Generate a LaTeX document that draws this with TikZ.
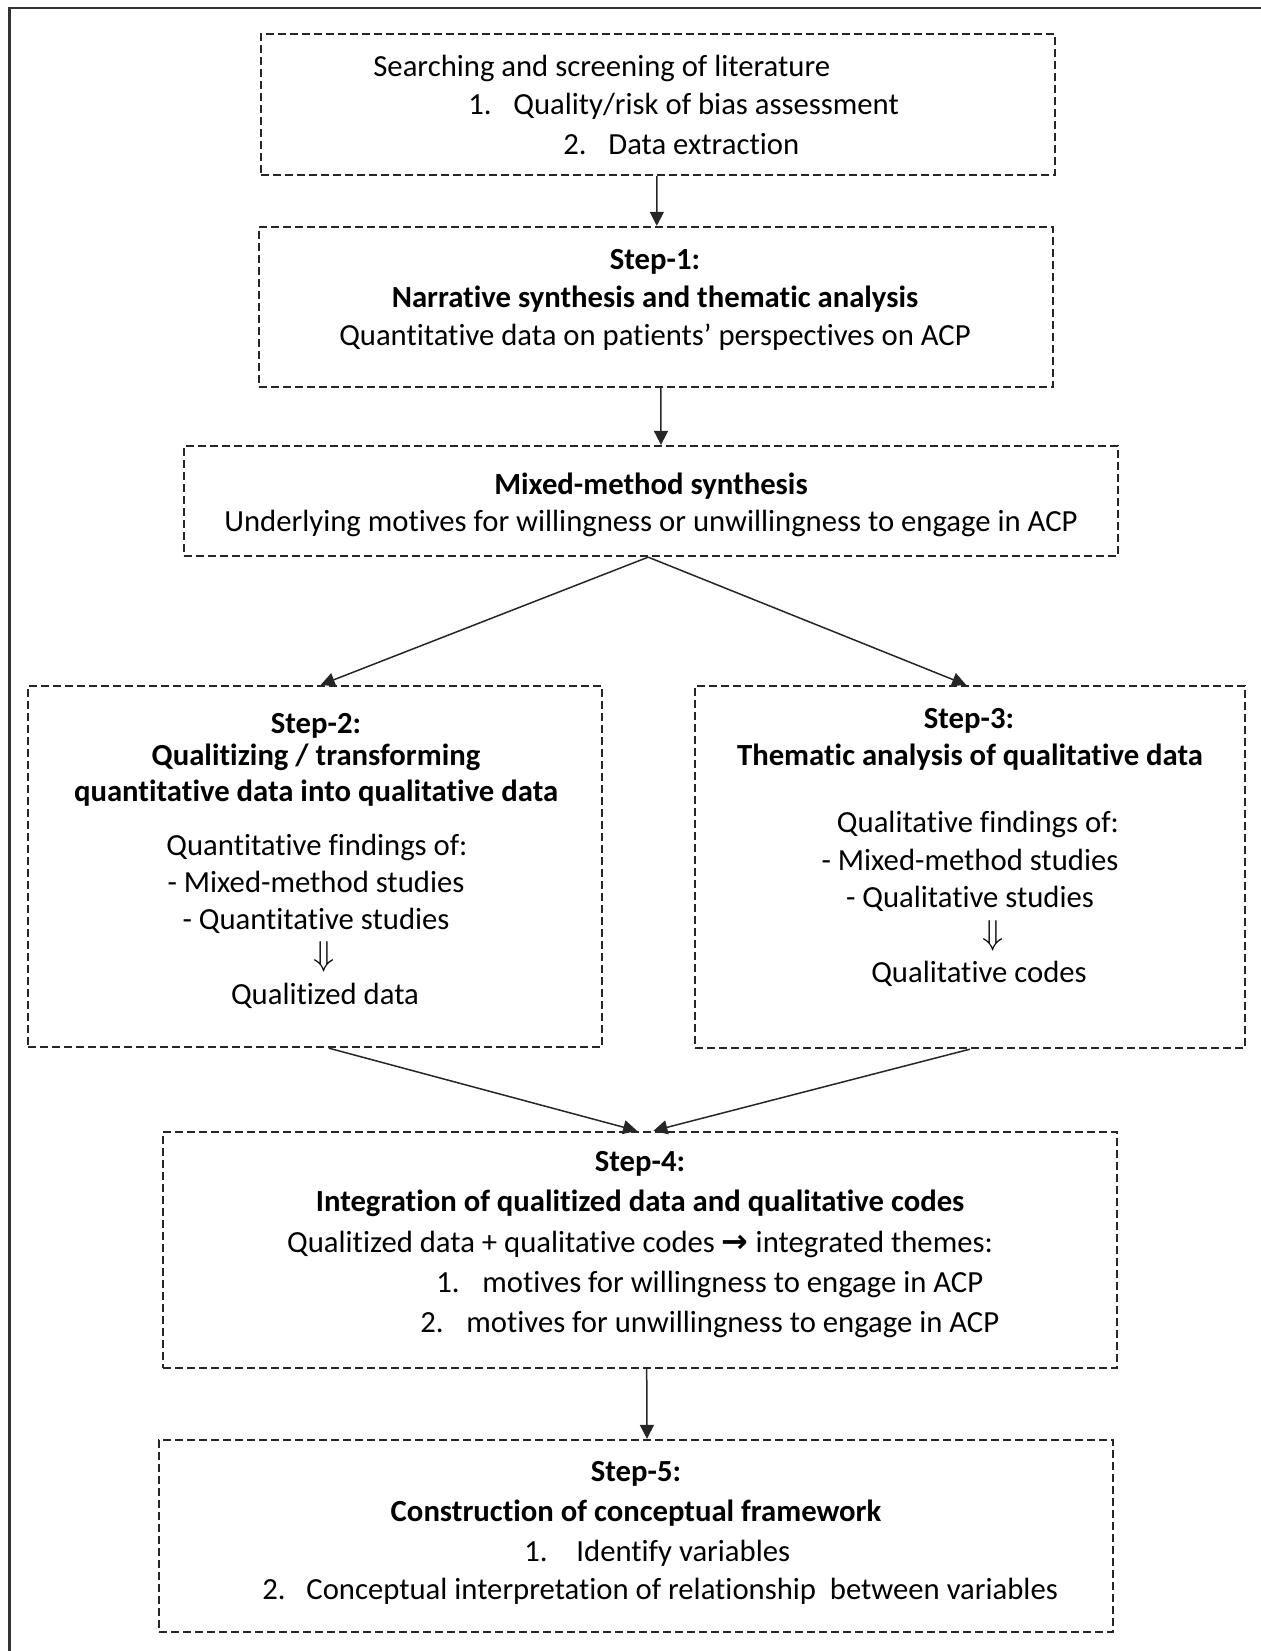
\documentclass[tikz,border=0pt]{standalone}
\usepackage{fontspec}
\setmainfont{Carlito}[Ligatures=CommonOff]
\newfontfamily\dejavu{DejaVu Sans}
\usetikzlibrary{arrows.meta,fit,calc}
\begin{document}
\begin{tikzpicture}[x=0.5pt,y=-0.5pt,
  dbox/.style={draw=black!85, line width=1.15pt, dash pattern=on 4pt off 2pt, inner sep=0pt},
  arr/.style={draw=black!85, line width=0.75pt, -{Triangle[length=7pt,width=7pt]}},
  txt/.style={anchor=base, inner sep=0pt, font=\fontsize{15.35}{18}\selectfont},
  txtl/.style={txt, anchor=base west},
  bt/.style={txt, font=\fontsize{15.35}{18}\selectfont\bfseries},
  dar/.style={anchor=center, inner sep=0pt, font=\fontsize{16}{18}\selectfont},
  frame/.style={draw=black!80, line width=1.1pt}]
\useasboundingbox (0,0) rectangle (1261,1651);
\draw[frame] (1261,8) -- (9.5,8) -- (9.5,1651);

% boxes
\node[dbox, fit={(261,34) (1055,175)}] (b1) {};
\node[dbox, fit={(259,227) (1053,387)}] (b2) {};
\node[dbox, fit={(184,446) (1118,556)}] (b3) {};
\node[dbox, fit={(28,686) (602,1047)}] (s2) {};
\node[dbox, fit={(695,686) (1245,1048)}] (s3) {};
\node[dbox, fit={(163,1132) (1117,1368)}] (b4) {};
\node[dbox, fit={(159,1440) (1113,1632)}] (b5) {};

% box 1 text
\node[txtl] (t1a) at (373,76) {Searching and screening of literature};
\node[txtl] (t1b) at (468,114) {1.};
\node[txtl] (t1c) at (513,114) {Quality/risk of bias assessment};
\node[txtl] (t1d) at (563,154) {2.};
\node[txtl] (t1e) at (608,154) {Data extraction};

% box 2 text
\node[bt] (t2a) at (655,269) {Step-1:};
\node[bt] (t2b) at (655,307) {Narrative synthesis and thematic analysis};
\node[txt] (t2c) at (655,345) {Quantitative data on patients’ perspectives on ACP};

% box 3 text
\node[bt] (t3a) at (651,494) {Mixed-method synthesis};
\node[txt] (t3b) at (651,531) {Underlying motives for willingness or unwillingness to engage in ACP};

% step 2
\node[bt] (u1) at (316,733) {Step-2:};
\node[bt] (u2) at (316,765) {Qualitizing / transforming};
\node[bt] (u3) at (316,801) {quantitative data into qualitative data};
\node[txt] (u4) at (317,855) {Quantitative findings of:};
\node[txt] (u5) at (316,892) {- Mixed-method studies};
\node[txt] (u6) at (316,929) {- Quantitative studies};
\node[dar] (u7) at (324,957) {$\Downarrow$};
\node[txt] (u8) at (325,1004) {Qualitized data};

% step 3
\node[bt] (v1) at (969,728) {Step-3:};
\node[bt] (v2) at (970,765) {Thematic analysis of qualitative data};
\node[txt] (v3) at (978,832) {Qualitative findings of:};
\node[txt] (v4) at (970,870) {- Mixed-method studies};
\node[txt] (v5) at (970,907) {- Qualitative studies};
\node[dar] (v6) at (993,936) {$\Downarrow$};
\node[txt] (v7) at (979,982) {Qualitative codes};

% step 4
\node[bt] (w1) at (640,1171) {Step-4:};
\node[bt] (w2) at (640,1211) {Integration of qualitized data and qualitative codes};
\node[txt] (w3) at (640,1252) {Qualitized data + qualitative codes {\dejavu\bfseries\fontsize{16}{16}\selectfont →} integrated themes:};
\node[txtl] (w4) at (436,1292) {1.};
\node[txtl] (w5) at (482,1292) {motives for willingness to engage in ACP};
\node[txtl] (w6) at (420,1332) {2.};
\node[txtl] (w7) at (466,1332) {motives for unwillingness to engage in ACP};

% step 5
\node[bt] (x1) at (636,1481) {Step-5:};
\node[bt] (x2) at (636,1521) {Construction of conceptual framework};
\node[txtl] (x3) at (524,1561) {1.};
\node[txtl] (x4) at (576,1561) {Identify variables};
\node[txtl] (x5) at (262,1599) {2.};
\node[txtl] (x6) at (306,1599) {Conceptual interpretation of relationship\ \ between variables};

% connectors
\draw[arr] ($(b1.south west)!0.4987!(b1.south east)$) -- ($(b2.north west)!0.501!(b2.north east)$);
\draw[arr] ($(b2.south west)!0.506!(b2.south east)$) -- ($(b3.north west)!0.5107!(b3.north east)$);
\draw[arr] ($(b3.south west)!0.497!(b3.south east)$) -- ($(s2.north west)!0.510!(s2.north east)$);
\draw[arr] ($(b3.south west)!0.497!(b3.south east)$) -- ($(s3.north west)!0.493!(s3.north east)$);
\draw[arr] ($(s2.south west)!0.524!(s2.south east)$) -- ($(b4.north west)!0.497!(b4.north east)$);
\draw[arr] ($(s3.south west)!0.50!(s3.south east)$) -- ($(b4.north west)!0.514!(b4.north east)$);
\draw[arr] ($(b4.south west)!0.507!(b4.south east)$) -- ($(b5.north west)!0.5115!(b5.north east)$);
\end{tikzpicture}
\end{document}
